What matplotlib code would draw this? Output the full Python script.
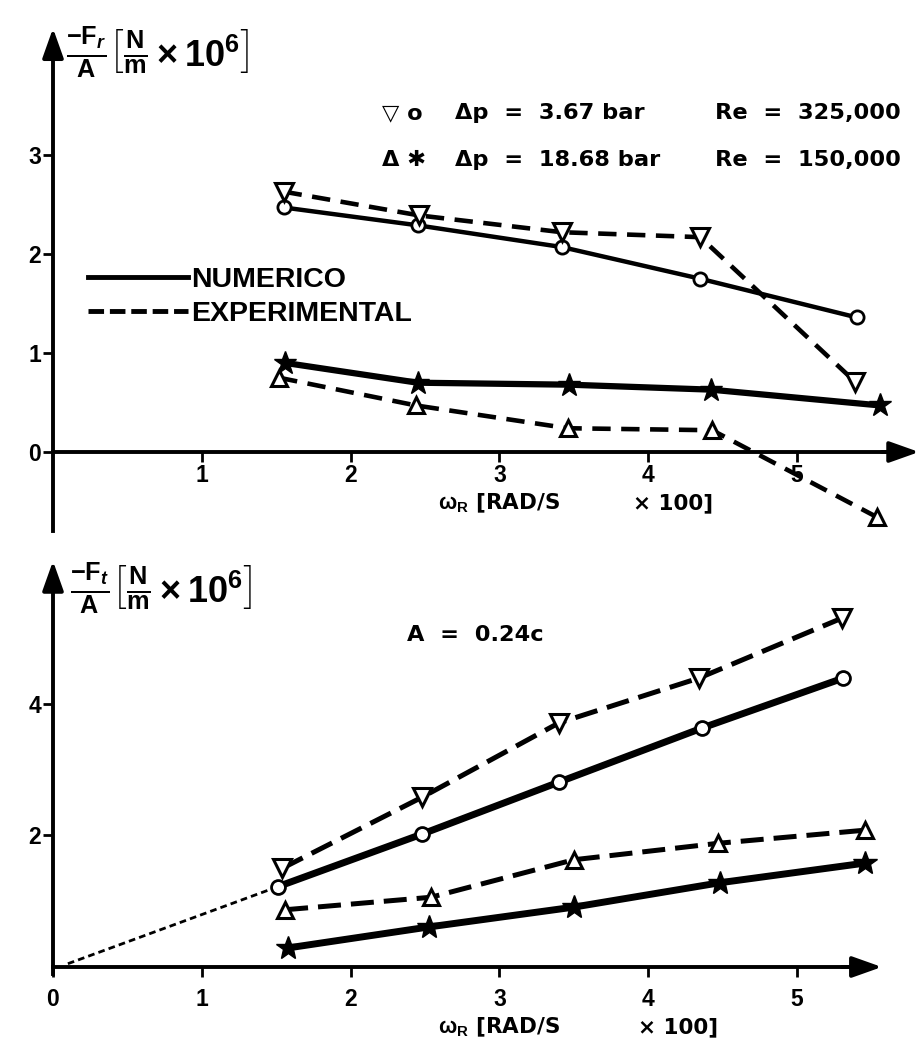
import matplotlib
matplotlib.use("Agg")
import matplotlib.pyplot as plt
from matplotlib.lines import Line2D

plt.rcParams['font.family'] = ['Liberation Sans', 'DejaVu Sans']
plt.rcParams['font.weight'] = 'bold'
plt.rcParams['mathtext.fontset'] = 'custom'
plt.rcParams['mathtext.rm'] = 'Liberation Sans:bold'
plt.rcParams['mathtext.it'] = 'Liberation Sans:bold:italic'
plt.rcParams['mathtext.bf'] = 'Liberation Sans:bold'

# ---------------- data ----------------
# top panel: radial force  -Fr/A
top_exp_low_x = [1.55, 2.46, 3.42, 4.35, 5.39]     # inverted triangles, dp=3.67 bar (experimental)
top_exp_low_y = [2.63, 2.39, 2.22, 2.17, 0.71]
top_num_low_x = [1.55, 2.45, 3.42, 4.35, 5.40]     # circles, dp=3.67 bar (numerical)
top_num_low_y = [2.47, 2.29, 2.07, 1.75, 1.36]
top_num_high_x = [1.56, 2.45, 3.47, 4.42, 5.56]    # stars, dp=18.68 bar (numerical)
top_num_high_y = [0.90, 0.70, 0.68, 0.63, 0.47]
top_exp_high_x = [1.52, 2.44, 3.46, 4.43, 5.54]    # triangles, dp=18.68 bar (experimental)
top_exp_high_y = [0.75, 0.47, 0.24, 0.22, -0.66]

# bottom panel: tangential force  -Ft/A
bot_exp_low_x = [1.54, 2.48, 3.40, 4.34, 5.30]
bot_exp_low_y = [1.50, 2.58, 3.71, 4.39, 5.30]
bot_num_low_x = [1.51, 2.48, 3.40, 4.36, 5.31]
bot_num_low_y = [1.22, 2.02, 2.81, 3.63, 4.39]
bot_exp_high_x = [1.56, 2.54, 3.50, 4.47, 5.46]
bot_exp_high_y = [0.87, 1.06, 1.63, 1.88, 2.08]
bot_num_high_x = [1.58, 2.53, 3.50, 4.48, 5.46]
bot_num_high_y = [0.29, 0.61, 0.91, 1.28, 1.58]
bot_extrap_x = [0.10, 1.51]
bot_extrap_y = [0.05, 1.22]

top_yticks = [0, 1, 2, 3]
top_xticks = [1, 2, 3, 4, 5]
bot_yticks = [2, 4]
bot_xticks = [0, 1, 2, 3, 4, 5]

W, H = 924, 1046
fig = plt.figure(figsize=(W / 100, H / 100), dpi=100)


def make_ax(x0, xs, y0, ys, xlim, ylim):
    left = x0 + xs * xlim[0]
    right = x0 + xs * xlim[1]
    top = y0 - ys * ylim[1]
    bottom = y0 - ys * ylim[0]
    ax = fig.add_axes([left / W, 1 - bottom / H, (right - left) / W, (bottom - top) / H])
    ax.set_xlim(*xlim)
    ax.set_ylim(*ylim)
    ax.patch.set_visible(False)
    return ax


def fx(px):
    return px / W


def fy(py):
    return 1 - py / H


def style_axes(ax, xb, yb, xticks, yticks, xtip, ytip, xpad):
    for s in ['top', 'right']:
        ax.spines[s].set_visible(False)
    ax.spines['left'].set_position(('data', 0))
    ax.spines['bottom'].set_position(('data', 0))
    ax.spines['left'].set_bounds(*yb)
    ax.spines['bottom'].set_bounds(*xb)
    for s in ['left', 'bottom']:
        ax.spines[s].set_linewidth(2.8)
    ax.set_xticks(xticks)
    ax.set_yticks(yticks)
    ax.set_xticklabels([str(t) for t in xticks])
    ax.set_yticklabels([str(t) for t in yticks])
    ax.tick_params(axis='both', direction='out', length=7, width=2, labelsize=16.5)
    ax.tick_params(axis='y', pad=1.5)
    ax.tick_params(axis='x', pad=xpad)
    for lab in ax.get_xticklabels() + ax.get_yticklabels():
        lab.set_fontweight('bold')
    arrow = dict(arrowstyle='-|>,head_length=0.9,head_width=0.32', lw=2.8, color='black',
                 mutation_scale=20, shrinkA=0, shrinkB=0)
    ax.annotate('', xy=(xb[1] + xtip, 0), xytext=(xb[1] - 0.05, 0), arrowprops=arrow,
                annotation_clip=False)
    ax.annotate('', xy=(0, yb[1] + ytip), xytext=(0, yb[1] - 0.05), arrowprops=arrow,
                annotation_clip=False)


exp_kw = dict(color='black', lw=3.3, dashes=(4, 2.3), mfc='white', mec='black', mew=2.2,
              clip_on=False)
num_kw = dict(color='black', clip_on=False)

# ---------------- top panel ----------------
ax1 = make_ax(53, 148.8, 452, 99, (-0.3, 5.9), (-0.9, 4.45))
style_axes(ax1, (0, 5.62), (-0.8, 4.05), top_xticks, top_yticks, 0.2, 0.23, 1.5)

ax1.plot(top_num_low_x, top_num_low_y, marker='o', ms=9.5, mfc='white', mec='black', mew=2,
         lw=3.2, zorder=3, **num_kw)
ax1.plot(top_num_high_x, top_num_high_y, marker='*', ms=17, mfc='black', mec='black',
         lw=4.5, zorder=3, **num_kw)
ax1.plot(top_exp_low_x, top_exp_low_y, marker='v', ms=12.5, zorder=4, **exp_kw)
ax1.plot(top_exp_high_x, top_exp_high_y, marker='^', ms=12, zorder=4, **exp_kw)

# legend
handles = [Line2D([], [], color='black', lw=3.5),
           Line2D([], [], color='black', lw=3.5, dashes=(3.2, 1.2))]
leg = fig.legend(handles, ['NUMERICO', 'EXPERIMENTAL'], loc='upper left',
                 bbox_to_anchor=(fx(88), fy(267)), frameon=False, handlelength=3.5,
                 handletextpad=0.12, labelspacing=0.28, borderpad=0, borderaxespad=0,
                 prop=dict(family='Liberation Sans', weight='bold', size=20.5))

txt = dict(fontsize=16.2, fontweight='bold', va='center', ha='left',
           family=['DejaVu Sans'])
fig.text(fx(382), fy(113), '▽ o', **txt)
fig.text(fx(455), fy(113), 'Δp  =  3.67 bar', **txt)
fig.text(fx(715), fy(113), 'Re  =  325,000', **txt)
fig.text(fx(382), fy(160), 'Δ ✱', **txt)
fig.text(fx(455), fy(160), 'Δp  =  18.68 bar', **txt)
fig.text(fx(715), fy(160), 'Re  =  150,000', **txt)

ylab_top = r'$\mathrm{\frac{-F_{\mathit{r}}}{A}\left[\frac{N}{m}\times 10^{6}\right]}$'
fig.text(fx(66), fy(52), ylab_top, fontsize=26, va='center', ha='left')
xl = dict(fontsize=15.5, fontweight='bold', va='center', ha='left',
          family=['DejaVu Sans'])
fig.text(fx(438), fy(503), r'$\mathrm{\omega_{R}}$ [RAD/S', **xl)
fig.text(fx(633), fy(503), '× 100]', **xl)

# ---------------- bottom panel ----------------
ax2 = make_ax(53, 148.8, 967, 65.8, (-0.3, 5.9), (-1.2, 6.3))
style_axes(ax2, (0, 5.35), (-0.1, 5.85), bot_xticks, bot_yticks, 0.22, 0.32, 8)

ax2.plot(bot_extrap_x, bot_extrap_y, color='black', lw=2.0, dashes=(2.4, 1.5), zorder=2)
ax2.plot(bot_num_low_x, bot_num_low_y, marker='o', ms=10, mfc='white', mec='black', mew=2,
         lw=5, zorder=3, **num_kw)
ax2.plot(bot_num_high_x, bot_num_high_y, marker='*', ms=18, mfc='black', mec='black',
         lw=5, zorder=3, **num_kw)
bexp = dict(exp_kw)
bexp.update(lw=3.6, dashes=(4.6, 2.0))
ax2.plot(bot_exp_low_x, bot_exp_low_y, marker='v', ms=13, zorder=4, **bexp)
ax2.plot(bot_exp_high_x, bot_exp_high_y, marker='^', ms=12, zorder=4, **bexp)

fig.text(fx(407), fy(635), 'A  =  0.24c', **txt)
ylab_bot = r'$\mathrm{\frac{-F_{\mathit{t}}}{A}\left[\frac{N}{m}\times 10^{6}\right]}$'
fig.text(fx(70), fy(588), ylab_bot, fontsize=26, va='center', ha='left')
fig.text(fx(438), fy(1027), r'$\mathrm{\omega_{R}}$ [RAD/S', **xl)
fig.text(fx(638), fy(1027), '× 100]', **xl)

fig.savefig('out.png', dpi=100, facecolor='white')
